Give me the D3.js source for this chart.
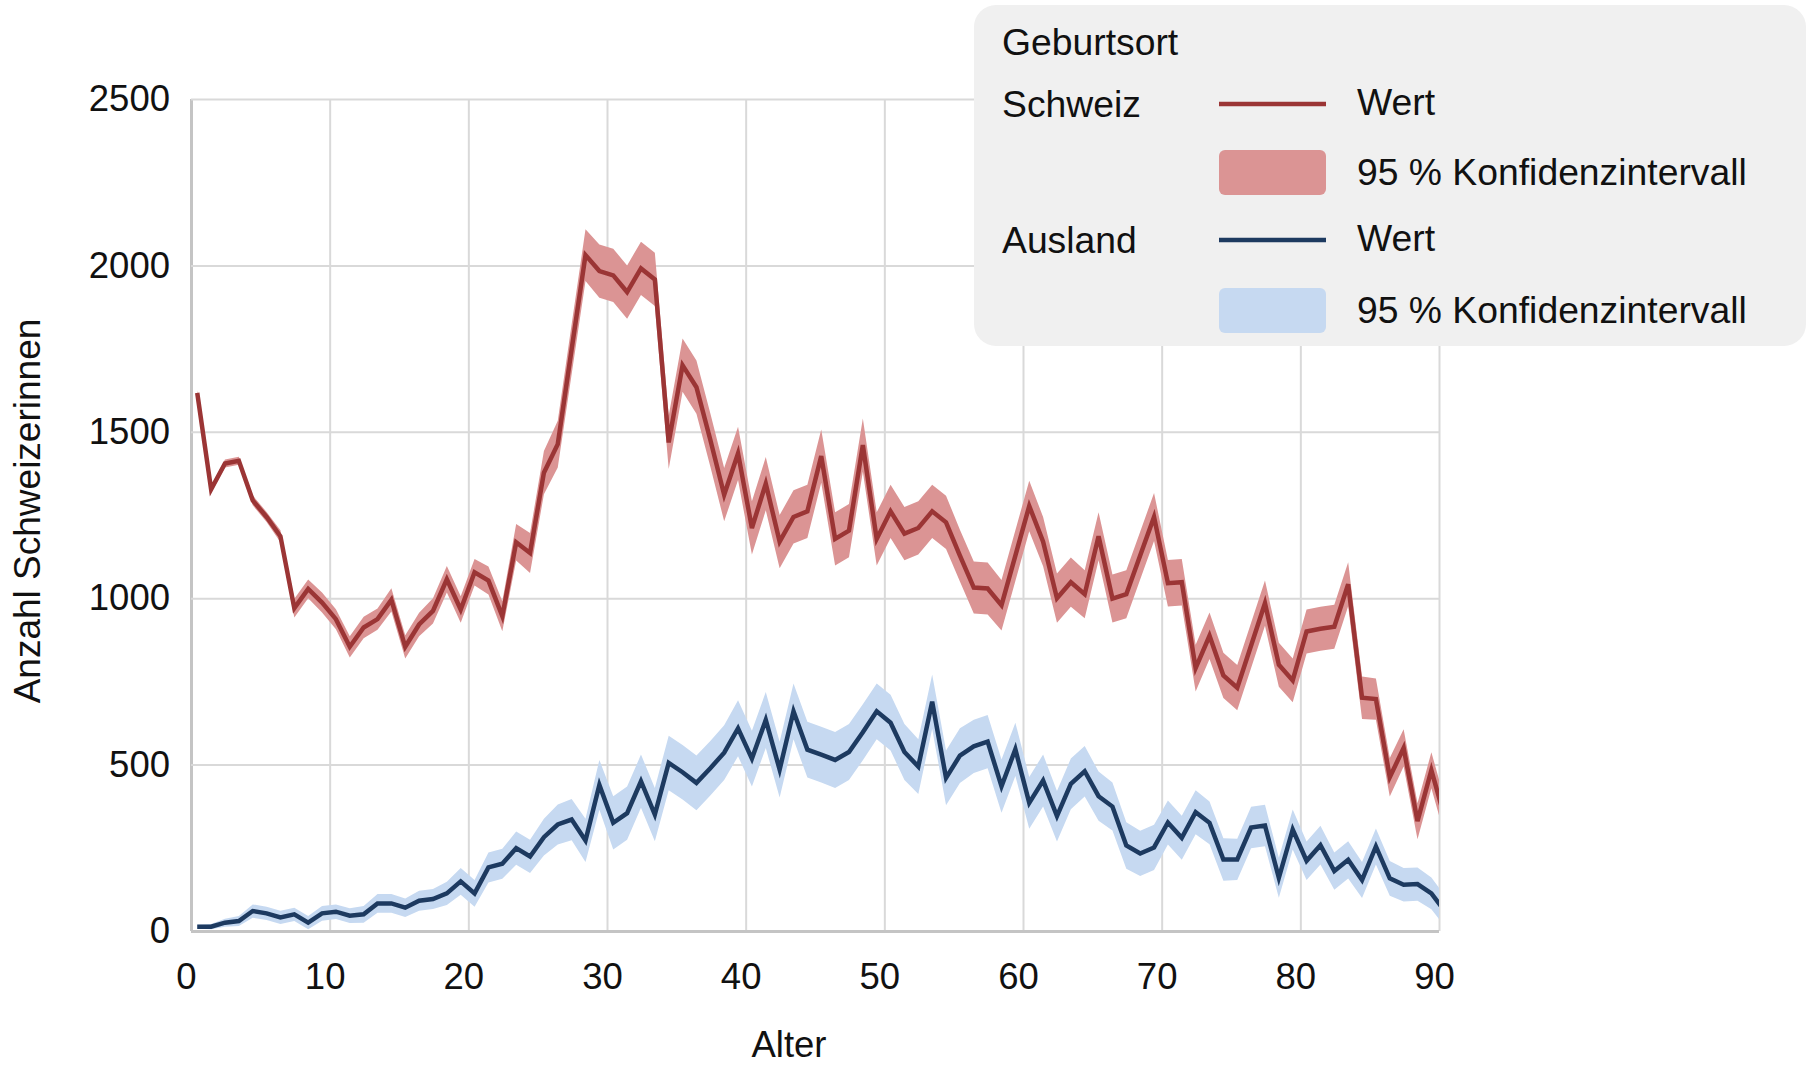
<!DOCTYPE html>
<meta charset="utf-8">

<script src="https://d3js.org/d3.v7.min.js"></script>

<style type="text/css">

body {
  margin: 0;
  background: #fff;
}

svg text {
  font-family: "Liberation Sans", Arial, sans-serif;
  fill: #111;
}

.axis text {
  font-size: 36.5px;
}

.axis line {
  stroke: #d9d9d9;
  stroke-width: 2px;
}

.axis .edge line {
  stroke: #c4c4c4;
  stroke-width: 3px;
}

.axis path {
  display: none;
}

.legend text {
  font-size: 37.3px;
}

</style>

<body>
</body>

<script>

// Alter (0 .. 90)
var ages = [0,1,2,3,4,5,6,7,8,9,10,11,12,13,14,15,16,17,18,19,20,21,22,23,24,25,26,27,28,29,
  30,31,32,33,34,35,36,37,38,39,40,41,42,43,44,45,46,47,48,49,50,51,52,53,54,55,56,57,58,59,
  60,61,62,63,64,65,66,67,68,69,70,71,72,73,74,75,76,77,78,79,80,81,82,83,84,85,86,87,88,89,90];

// Geburtsort Schweiz: Wert und halbe Breite des 95 % Konfidenzintervalls
var schweizWert = [
  1617,1327,1405,1413,1294,1244,1186,970,1028,987,
  937,854,912,937,995,854,921,962,1057,966,
  1078,1053,946,1168,1136,1377,1463,1748,2031,1983,
  1970,1920,1991,1958,1468,1700,1634,1476,1311,1435,
  1211,1344,1170,1244,1261,1427,1178,1203,1460,1178,
  1261,1194,1211,1261,1228,1128,1032,1029,979,1128,
  1277,1170,1000,1048,1012,1186,999,1012,1128,1244,
  1045,1048,790,887,768,731,858,985,800,753,
  900,908,914,1042,701,697,462,550,330,483,335];

var schweizCI = [
  8,10,12,12,15,15,18,28,28,30,
  30,32,32,32,35,35,35,38,40,40,
  40,42,45,55,60,65,70,75,78,80,
  80,80,80,80,80,80,80,80,80,80,
  80,80,80,80,80,80,80,80,80,80,
  80,80,80,80,80,78,78,78,76,76,
  76,74,74,74,72,72,72,72,72,72,
  70,70,70,70,68,68,68,68,66,66,
  66,66,66,66,64,62,58,56,54,54,54];

// Geburtsort Ausland
var auslandWert = [
  13,13,25,30,60,53,41,50,25,53,
  58,46,50,83,83,70,91,96,113,149,
  113,191,202,249,224,282,320,335,272,439,
  325,354,450,350,505,477,445,489,536,609,
  518,634,485,660,545,530,514,538,597,660,
  626,538,494,689,460,527,555,569,435,546,
  385,452,345,442,480,405,374,257,233,251,
  326,280,357,325,215,215,311,317,160,305,
  211,258,180,214,153,254,158,139,141,113,58];

var auslandCI = [
  6,8,12,15,20,20,20,20,20,22,
  22,22,25,28,28,28,30,30,35,40,
  40,45,45,50,50,55,60,62,65,75,
  80,80,80,80,82,82,82,82,82,84,
  84,84,84,84,84,84,84,84,84,84,
  84,84,82,82,82,82,80,80,80,80,
  78,78,76,76,76,74,72,70,68,68,
  66,66,66,64,64,62,62,62,60,60,
  58,58,56,56,54,54,52,50,50,48,46];

var xTicks = [0,10,20,30,40,50,60,70,80,90];
var yTicks = [0,500,1000,1500,2000,2500];

var series = [
  {name: 'Schweiz', wert: schweizWert, ci: schweizCI, line: '#9b3535', band: '#db9494'},
  {name: 'Ausland', wert: auslandWert, ci: auslandCI, line: '#1d3a60', band: '#c6d9f1'}
];

// create svg
var margin = {top: 99, right: 369, bottom: 134, left: 191};
var width = 1808 - margin.left - margin.right;
var height = 1065 - margin.top - margin.bottom;

var root = d3.select("body").append("svg")
    .attr("width", 1808)
    .attr("height", 1065);

var svg = root.append("g")
    .attr("transform", "translate(" + margin.left + "," + margin.top + ")");

// scales
var xScale = d3.scaleLinear()
  .domain([0, 90])
  .range([0, width]);

var yScale = d3.scaleLinear()
  .domain([0, 2500])
  .range([height, 0]);

// points sit in the middle of each year
var xOffset = 0.45;

// axes with gridlines
var xAxis = d3.axisBottom(xScale)
  .tickValues(xTicks)
  .tickFormat(d3.format('d'))
  .tickSize(-height)
  .tickPadding(32);

var yAxis = d3.axisLeft(yScale)
  .tickValues(yTicks)
  .tickFormat(d3.format('d'))
  .tickSize(-width)
  .tickPadding(21);

svg.append('g')
  .attr('class', 'x axis')
  .attr('transform', 'translate(0,' + height + ')')
  .call(xAxis)
  .selectAll('.tick')
  .classed('edge', function(d) { return d === 0; })
  .select('text')
  .attr('dx', -5);

svg.append('g')
  .attr('class', 'y axis')
  .call(yAxis)
  .selectAll('.tick')
  .classed('edge', function(d) { return d === 0; });

// clip to plot area
svg.append('clipPath')
  .attr('id', 'plotClip')
  .append('rect')
  .attr('width', width)
  .attr('height', height + 4)
  .attr('y', -4);

var plot = svg.append('g')
  .attr('clip-path', 'url(#plotClip)');

var area = d3.area()
  .x(function(d) { return xScale(d.age + xOffset); })
  .y0(function(d) { return yScale(d.lo); })
  .y1(function(d) { return yScale(d.hi); });

var line = d3.line()
  .x(function(d) { return xScale(d.age + xOffset); })
  .y(function(d) { return yScale(d.v); });

function rows(s) {
  return ages.map(function(a, i) {
    return {age: a, v: s.wert[i], lo: s.wert[i] - s.ci[i], hi: s.wert[i] + s.ci[i]};
  });
}

// bands first, then lines
series.forEach(function(s) {
  plot.append('path')
    .datum(rows(s))
    .attr('fill', s.band)
    .attr('d', area);
});

series.forEach(function(s) {
  plot.append('path')
    .datum(rows(s))
    .attr('fill', 'none')
    .attr('stroke', s.line)
    .attr('stroke-width', 4.5)
    .attr('stroke-linejoin', 'miter')
    .attr('d', line);
});

// axis titles
root.append('text')
  .attr('x', 789)
  .attr('y', 1057)
  .attr('text-anchor', 'middle')
  .style('font-size', '36.5px')
  .text('Alter');

root.append('text')
  .attr('transform', 'translate(40,511) rotate(-90)')
  .attr('text-anchor', 'middle')
  .style('font-size', '37px')
  .text('Anzahl Schweizerinnen');

// legend
var legend = root.append('g').attr('class', 'legend');

legend.append('rect')
  .attr('x', 974)
  .attr('y', 5)
  .attr('width', 832)
  .attr('height', 341)
  .attr('rx', 22)
  .attr('fill', '#f0f0f0');

legend.append('text')
  .attr('x', 1002)
  .attr('y', 55)
  .text('Geburtsort');

var rowY = [[104, 172], [240, 310]];

series.forEach(function(s, i) {
  var ly = rowY[i][0];
  var by = rowY[i][1];

  legend.append('text')
    .attr('x', 1002)
    .attr('y', ly + 13)
    .text(s.name);

  legend.append('line')
    .attr('x1', 1219)
    .attr('x2', 1326)
    .attr('y1', ly)
    .attr('y2', ly)
    .attr('stroke', s.line)
    .attr('stroke-width', 4.5);

  legend.append('text')
    .attr('x', 1357)
    .attr('y', ly + 11)
    .text('Wert');

  legend.append('rect')
    .attr('x', 1219)
    .attr('y', by - 22)
    .attr('width', 107)
    .attr('height', 45)
    .attr('rx', 6)
    .attr('fill', s.band);

  legend.append('text')
    .attr('x', 1357)
    .attr('y', by + 13)
    .text('95 % Konfidenzintervall');
});

</script>
